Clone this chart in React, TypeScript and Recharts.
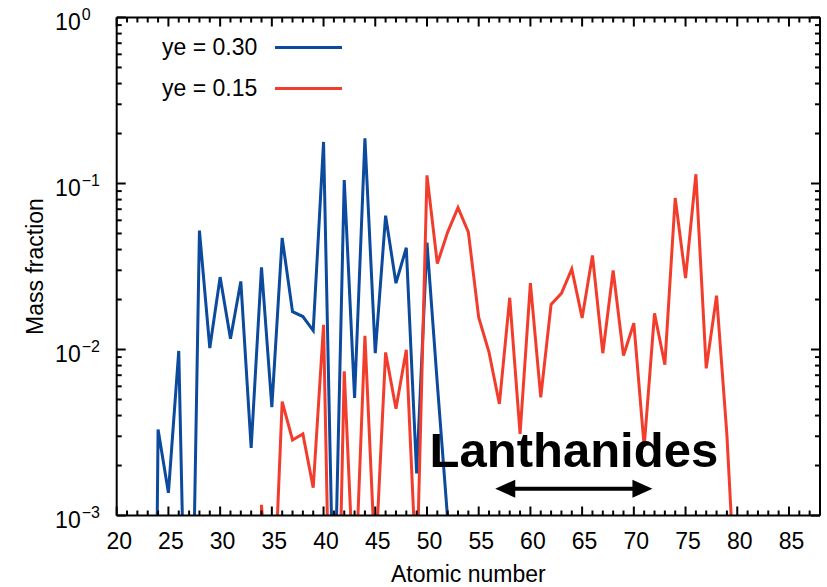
import { Legend, Line, LineChart, ReferenceLine, XAxis, YAxis } from 'recharts';

const FONT = '"Liberation Sans", Arial, Helvetica, sans-serif';

// atomic numbers that carry a value in at least one run
const atomicNumbers = [
  23, 24, 25, 26, 27, 28, 29, 30, 31, 32, 33, 34, 35, 36, 37, 38, 39, 40, 41, 42,
  43, 44, 45, 46, 47, 48, 49, 50, 51, 52, 53, 54, 55, 56, 57, 58, 59, 60, 61, 62,
  63, 64, 65, 66, 67, 68, 69, 70, 71, 72, 73, 74, 75, 76, 77, 78, 79, 80,
];

// mass fractions, ye = 0.30 (values under 1e-3 run off the bottom)
const ye030 = [
  1e-9, 0.0033, 0.00137, 0.0098, 1.3e-5, 0.052, 0.0102, 0.0273, 0.0116, 0.0257,
  0.00255, 0.0313, 0.0045, 0.047, 0.0169, 0.0158, 0.013, 0.178, 0.0002, 0.105,
  0.0051, 0.187, 0.0095, 0.064, 0.0251, 0.041, 0.00179, 0.044, 0.0062, 0.00095,
  null, null, null, null, null, null, null, null, null, null,
  null, null, null, null, null, null, null, null, null, null,
  null, null, null, null, null, null, null, null,
];

// mass fractions, ye = 0.15
const ye015 = [
  null, null, null, null, null, null, null, null, null, null,
  1e-9, 0.00116, 0.00015, 0.00485, 0.00285, 0.0031, 0.00147, 0.0141, 1e-5, 0.0074,
  0.0003, 0.0121, 0.0005, 0.0096, 0.0044, 0.00995, 0.0004, 0.112, 0.0329, 0.051,
  0.0715, 0.051, 0.0156, 0.0096, 0.0047, 0.0205, 0.0031, 0.0251, 0.00515, 0.0187,
  0.0218, 0.0306, 0.0155, 0.0369, 0.0095, 0.0299, 0.0092, 0.0144, 0.0026, 0.0165,
  0.0081, 0.0818, 0.0269, 0.1137, 0.0077, 0.0211, 0.00305, 0.0002,
];

const seriesNames = ['ye = 0.30', 'ye = 0.15'];
const seriesColors = ['#0b4a9c', '#f23d2c'];

const xTicks = [
  20, 21, 22, 23, 24, 25, 26, 27, 28, 29, 30, 31, 32, 33, 34, 35, 36, 37, 38, 39,
  40, 41, 42, 43, 44, 45, 46, 47, 48, 49, 50, 51, 52, 53, 54, 55, 56, 57, 58, 59,
  60, 61, 62, 63, 64, 65, 66, 67, 68, 69, 70, 71, 72, 73, 74, 75, 76, 77, 78, 79,
  80, 81, 82, 83, 84, 85, 86, 87, 88,
];

const yTicks = [
  0.001, 0.002, 0.003, 0.004, 0.005, 0.006, 0.007, 0.008, 0.009,
  0.01, 0.02, 0.03, 0.04, 0.05, 0.06, 0.07, 0.08, 0.09,
  0.1, 0.2, 0.3, 0.4, 0.5, 0.6, 0.7, 0.8, 0.9, 1,
];

// lanthanide arrow span and its height on the log axis
const lanthanideSpan = [56.6, 71.8];
const arrowLevel = 0.00145;

const data = atomicNumbers.map((z, i) => ({ z, ye030: ye030[i], ye015: ye015[i] }));

const isDecade = (v: number) => Math.abs(Math.log10(v) - Math.round(Math.log10(v))) < 1e-6;

function BottomTick({ x, y, payload }: any) {
  const major = payload.value % 5 === 0;
  return (
    <g>
      <line x1={x} x2={x} y1={y} y2={y - (major ? 9 : 5)} stroke="#000" strokeWidth={2} />
      {major && (
        <text x={x + 2.5} y={y + 33.5} textAnchor="middle" fontSize={23} fontFamily={FONT} fill="#000">
          {payload.value}
        </text>
      )}
    </g>
  );
}

function TopTick({ x, y, payload }: any) {
  const major = payload.value % 5 === 0;
  return <line x1={x} x2={x} y1={y} y2={y + (major ? 9 : 5)} stroke="#000" strokeWidth={2} />;
}

function LeftTick({ x, y, payload }: any) {
  const major = isDecade(payload.value);
  const exp = Math.round(Math.log10(payload.value));
  return (
    <g>
      <line x1={x} x2={x + (major ? 9 : 5)} y1={y} y2={y} stroke="#000" strokeWidth={2} />
      {major && (
        <g fontFamily={FONT} fill="#000">
          <text x={x - 36} y={y + 12} textAnchor="end" fontSize={23}>
            10
          </text>
          <text x={x - 35} y={y + 2} textAnchor="start" fontSize={16}>
            {exp === 0 ? '0' : `\u2212${-exp}`}
          </text>
        </g>
      )}
    </g>
  );
}

function RightTick({ x, y, payload }: any) {
  const major = isDecade(payload.value);
  return <line x1={x} x2={x - (major ? 9 : 5)} y1={y} y2={y} stroke="#000" strokeWidth={2} />;
}

function LanthanideArrow({ x1, y1, x2 }: any) {
  const head = 20;
  const half = 9;
  return (
    <g>
      <line x1={x1 + head - 2} x2={x2 - head + 2} y1={y1} y2={y1} stroke="#000" strokeWidth={4} />
      <polygon points={`${x1},${y1} ${x1 + head},${y1 - half} ${x1 + head},${y1 + half}`} fill="#000" />
      <polygon points={`${x2},${y1} ${x2 - head},${y1 - half} ${x2 - head},${y1 + half}`} fill="#000" />
      <text
        x={(x1 + x2) / 2}
        y={y1 - 22}
        textAnchor="middle"
        fontSize={49}
        fontWeight="bold"
        fontFamily={FONT}
        fill="#000"
      >
        Lanthanides
      </text>
    </g>
  );
}

function LegendBox({ payload }: any) {
  // keep the run order, not alphabetical
  const items = seriesNames
    .map((name) => (payload || []).find((p: any) => p.value === name))
    .filter(Boolean);
  return (
    <div style={{ fontFamily: FONT, fontSize: 23, color: '#000' }}>
      {items.map((entry: any) => (
        <div key={entry.value} style={{ display: 'flex', alignItems: 'center', height: 41 }}>
          <span style={{ width: 113, lineHeight: '23px' }}>{entry.value}</span>
          <span style={{ width: 67, height: 3, background: entry.color }} />
        </div>
      ))}
    </div>
  );
}

export default function App() {
  return (
    <div style={{ position: 'absolute', left: 0, top: 0, width: 827, height: 587, background: '#fff', overflow: 'hidden' }}>
      <LineChart width={827} height={587} data={data} margin={{ top: 16.5, right: 6, bottom: 31.5, left: 36.7 }}>
        <XAxis
          dataKey="z"
          type="number"
          domain={[20, 88]}
          ticks={xTicks}
          interval={0}
          height={40}
          tickSize={0}
          tickMargin={0}
          tickLine={false}
          tick={<BottomTick />}
          axisLine={{ stroke: '#000', strokeWidth: 2 }}
          label={{
            content: ({ viewBox }: any) => (
              <text
                x={viewBox.x + viewBox.width / 2}
                y={viewBox.y + 66}
                textAnchor="middle"
                fontSize={23}
                fontFamily={FONT}
                fill="#000"
              >
                Atomic number
              </text>
            ),
          }}
        />
        <XAxis
          xAxisId="top"
          orientation="top"
          dataKey="z"
          type="number"
          domain={[20, 88]}
          ticks={xTicks}
          interval={0}
          height={1}
          tickSize={0}
          tickMargin={0}
          tickLine={false}
          tick={<TopTick />}
          axisLine={{ stroke: '#000', strokeWidth: 2 }}
        />
        <YAxis
          scale="log"
          type="number"
          domain={[0.001, 1]}
          ticks={yTicks}
          interval={0}
          allowDataOverflow
          width={80}
          tickSize={0}
          tickMargin={0}
          tickLine={false}
          tick={<LeftTick />}
          axisLine={{ stroke: '#000', strokeWidth: 2 }}
          label={{
            content: ({ viewBox }: any) => {
              const cx = 43;
              const cy = viewBox.y + viewBox.height / 2;
              return (
                <text
                  x={cx}
                  y={cy}
                  transform={`rotate(-90 ${cx} ${cy})`}
                  textAnchor="middle"
                  fontSize={23}
                  fontFamily={FONT}
                  fill="#000"
                >
                  Mass fraction
                </text>
              );
            },
          }}
        />
        <YAxis
          yAxisId="right"
          orientation="right"
          scale="log"
          type="number"
          domain={[0.001, 1]}
          ticks={yTicks}
          interval={0}
          allowDataOverflow
          width={1}
          tickSize={0}
          tickMargin={0}
          tickLine={false}
          tick={<RightTick />}
          axisLine={{ stroke: '#000', strokeWidth: 2 }}
        />
        <Legend
          layout="vertical"
          align="center"
          verticalAlign="middle"
          wrapperStyle={{ left: 162, top: 26.5, width: 200 }}
          content={<LegendBox />}
        />
        {/* invisible twin so the mirrored top/right axes get registered */}
        <Line
          xAxisId="top"
          yAxisId="right"
          dataKey="ye030"
          stroke="none"
          legendType="none"
          dot={false}
          activeDot={false}
          isAnimationActive={false}
        />
        <Line
          dataKey="ye030"
          name={seriesNames[0]}
          stroke={seriesColors[0]}
          strokeWidth={3}
          dot={false}
          activeDot={false}
          isAnimationActive={false}
        />
        <Line
          dataKey="ye015"
          name={seriesNames[1]}
          stroke={seriesColors[1]}
          strokeWidth={3}
          dot={false}
          activeDot={false}
          isAnimationActive={false}
        />
        <ReferenceLine
          segment={[
            { x: lanthanideSpan[0], y: arrowLevel },
            { x: lanthanideSpan[1], y: arrowLevel },
          ]}
          shape={<LanthanideArrow />}
        />
      </LineChart>
    </div>
  );
}
